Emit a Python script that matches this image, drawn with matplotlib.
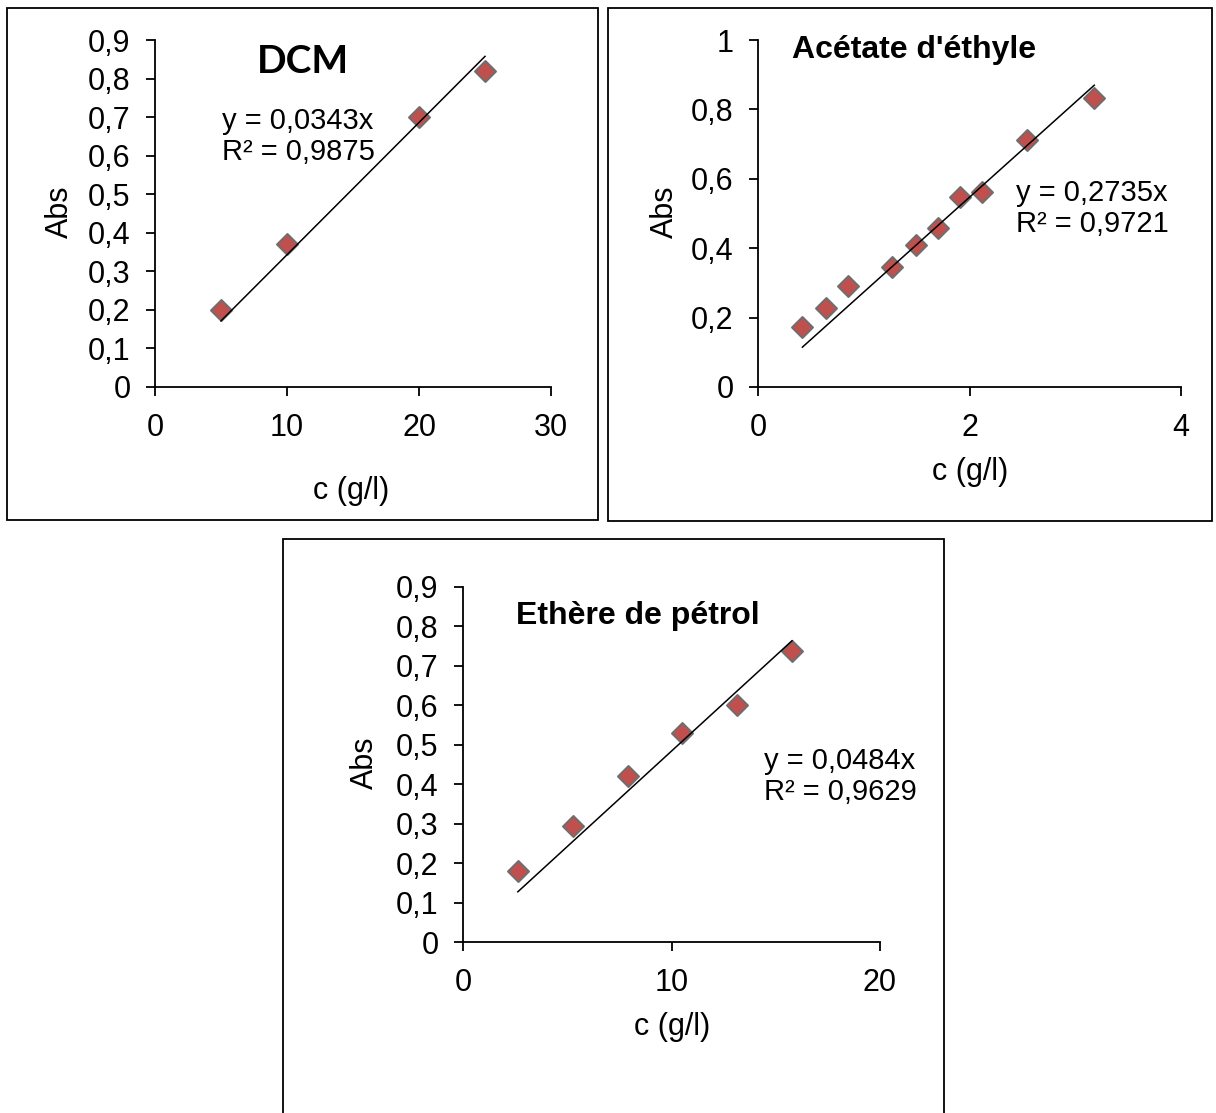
import matplotlib.pyplot as plt
from matplotlib.patches import Rectangle
from matplotlib.ticker import FuncFormatter, MultipleLocator
import numpy as np

# taille de l'image en pixels (dpi = 100)
W, H = 1216, 1113

# --- données : DCM ---
dcm_c = [5, 10, 20, 25]
dcm_abs = [0.20, 0.37, 0.70, 0.82]
dcm_slope = 0.0343
dcm_r2 = 0.9875

# --- données : acétate d'éthyle ---
acet_c = [0.42, 0.64, 0.85, 1.27, 1.49, 1.70, 1.91, 2.12, 2.54, 3.18]
acet_abs = [0.172, 0.228, 0.292, 0.345, 0.408, 0.457, 0.548, 0.562, 0.713, 0.834]
acet_slope = 0.2735
acet_r2 = 0.9721

# --- données : éther de pétrole ---
ether_c = [2.63, 5.26, 7.90, 10.52, 13.15, 15.78]
ether_abs = [0.180, 0.295, 0.420, 0.530, 0.602, 0.738]
ether_slope = 0.0484
ether_r2 = 0.9629

FONT = "Liberation Sans"
RED = "#C0504D"
EDGE = "#6E6E6E"
LABEL_SIZE = 22
EQ_SIZE = 21

plt.rcParams["font.family"] = FONT


def px(x, y):
    """Pixels (origine en haut à gauche) -> coordonnées figure."""
    return x / W, 1 - y / H


def fr_fmt(v, pos):
    # virgule décimale à la française
    return ("%g" % round(v, 3)).replace(".", ",")


def fr4(v):
    return f"{v:.4f}".replace(".", ",")


def add_panel(fig, box, axes_px, c, a, slope, r2, xmax, xstep, ymax, ystep,
              title, title_pos, title_font, eq_pos, abs_pos, c_pos):
    # cadre du graphique
    bx0, by0, bx1, by1 = box
    fig.patches.append(Rectangle(px(bx0, by1), (bx1 - bx0) / W, (by1 - by0) / H,
                                 transform=fig.transFigure, fill=False,
                                 edgecolor="black", lw=1.3, zorder=0))

    x0, x1, ytop, ybot = axes_px
    l, b = px(x0, ybot)
    ax = fig.add_axes([l, b, (x1 - x0) / W, (ybot - ytop) / H])
    ax.set_facecolor("none")

    # points + droite de tendance passant par l'origine
    xs = np.array([min(c), max(c)])
    ax.scatter(c, a, marker="D", s=115, facecolor=RED, edgecolor=EDGE,
               linewidth=1.4, zorder=3, clip_on=False)
    ax.plot(xs, slope * xs, color="black", lw=1.1, zorder=4)

    ax.set_xlim(0, xmax)
    ax.set_ylim(0, ymax)
    ax.xaxis.set_major_locator(MultipleLocator(xstep))
    ax.yaxis.set_major_locator(MultipleLocator(ystep))
    ax.xaxis.set_major_formatter(FuncFormatter(fr_fmt))
    ax.yaxis.set_major_formatter(FuncFormatter(fr_fmt))

    for s in ("top", "right"):
        ax.spines[s].set_visible(False)
    for s in ("left", "bottom"):
        ax.spines[s].set_linewidth(1.3)
        ax.spines[s].set_color("black")
    ax.tick_params(direction="out", length=6.5, width=1.3,
                   labelsize=LABEL_SIZE, colors="black")
    ax.tick_params(axis="y", pad=11)
    ax.tick_params(axis="x", pad=12)

    # titre et équation
    fig.text(*px(*title_pos), title, fontsize=title_font[1], fontweight="bold",
             family=title_font[0], ha="left", va="baseline")
    ex, ey = eq_pos
    fig.text(*px(ex, ey), "y = " + fr4(slope) + "x", fontsize=EQ_SIZE,
             ha="left", va="center")
    fig.text(*px(ex, ey + 31), "R² = " + fr4(r2), fontsize=EQ_SIZE,
             ha="left", va="center")

    fig.text(*px(*abs_pos), "Abs", fontsize=LABEL_SIZE, rotation=90,
             ha="center", va="center")
    fig.text(*px(*c_pos), "c (g/l)", fontsize=LABEL_SIZE,
             ha="center", va="center")
    return ax


fig = plt.figure(figsize=(W / 100, H / 100), dpi=100)

add_panel(fig, (7, 8, 598, 520), (155, 551, 40, 387),
          dcm_c, dcm_abs, dcm_slope, dcm_r2, 30, 10, 0.9, 0.1,
          "DCM", (257, 73), ("Lato", 28), (222, 121), (60, 212), (351, 491))

add_panel(fig, (608, 8, 1212, 521), (758, 1181, 40, 387),
          acet_c, acet_abs, acet_slope, acet_r2, 4, 2, 1.0, 0.2,
          "Acétate d'éthyle", (792, 58), (FONT, 23), (1016, 193),
          (665, 212), (970, 472))

add_panel(fig, (283, 539, 944, 1120), (463, 880, 587, 942),
          ether_c, ether_abs, ether_slope, ether_r2, 20, 10, 0.9, 0.1,
          "Ethère de pétrol", (516, 624), (FONT, 23), (764, 761),
          (365, 763), (672, 1027))

fig.savefig("out.png", dpi=100)
